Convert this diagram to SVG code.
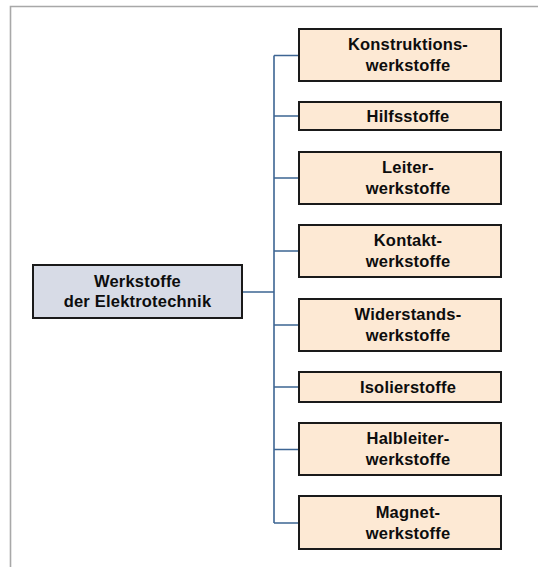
<svg xmlns="http://www.w3.org/2000/svg" width="538" height="567" viewBox="0 0 538 567">
<style>
.frame{fill:none;stroke:#a8a8a8;stroke-width:1.6}
.leaf{fill:#fde9d4;stroke:#1a1a1a;stroke-width:2}
.root{fill:#d7dbe6;stroke:#1a1a1a;stroke-width:2}
.conn{fill:none;stroke:#3d6593;stroke-width:1.6}
text{font-family:"Liberation Sans",Arial,sans-serif;font-weight:bold;font-size:16.5px;letter-spacing:0.2px;fill:#0d0d0d;text-anchor:middle}
</style>
<rect width="538" height="567" fill="#ffffff"/>
<path class="frame" d="M10.5,567 V6.5 H538"/>
<g id="connectors">
<path class="conn" d="M274,55.5 V523 M242,292 H274 M274,55.5 H299 M274,116 H299 M274,178 H299 M274,251 H299 M274,325 H299 M274,387 H299 M274,449.5 H299 M274,523 H299"/>
</g>
<g id="root">
<rect class="root" x="33" y="265" width="209" height="53"/>
<text x="137.5" y="286.5">Werkstoffe</text>
<text x="137.5" y="307">der Elektrotechnik</text>
</g>
<g id="n1">
<rect class="leaf" x="299" y="29" width="202" height="52"/>
<text x="408" y="50">Konstruktions-</text>
<text x="408" y="71">werkstoffe</text>
</g>
<g id="n2">
<rect class="leaf" x="299" y="102" width="202" height="28"/>
<text x="408" y="121.5">Hilfsstoffe</text>
</g>
<g id="n3">
<rect class="leaf" x="299" y="152" width="202" height="52"/>
<text x="408" y="173">Leiter-</text>
<text x="408" y="194">werkstoffe</text>
</g>
<g id="n4">
<rect class="leaf" x="299" y="225" width="202" height="52"/>
<text x="408" y="246">Kontakt-</text>
<text x="408" y="267">werkstoffe</text>
</g>
<g id="n5">
<rect class="leaf" x="299" y="299" width="202" height="52"/>
<text x="408" y="320">Widerstands-</text>
<text x="408" y="341">werkstoffe</text>
</g>
<g id="n6">
<rect class="leaf" x="299" y="372" width="202" height="30"/>
<text x="408" y="392.5">Isolierstoffe</text>
</g>
<g id="n7">
<rect class="leaf" x="299" y="423" width="202" height="52"/>
<text x="408" y="444">Halbleiter-</text>
<text x="408" y="465">werkstoffe</text>
</g>
<g id="n8">
<rect class="leaf" x="299" y="496" width="202" height="53"/>
<text x="408" y="517.5">Magnet-</text>
<text x="408" y="538.5">werkstoffe</text>
</g>
</svg>
